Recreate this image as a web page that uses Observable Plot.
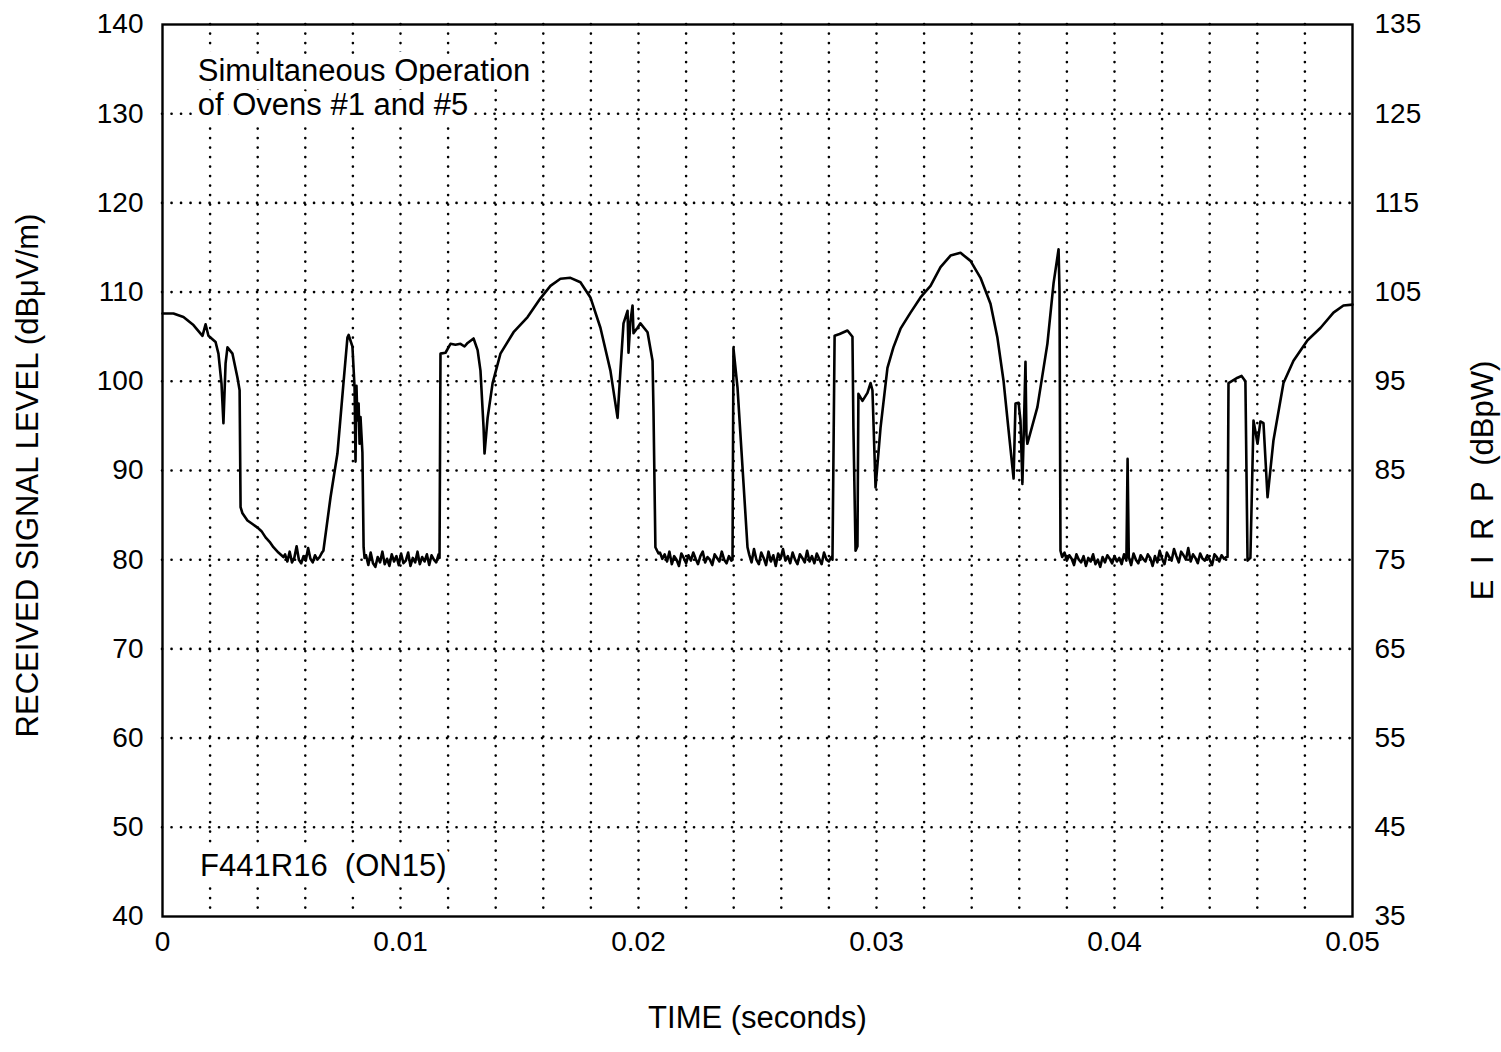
<!DOCTYPE html>
<html>
<head>
<meta charset="utf-8">
<script src="https://cdn.jsdelivr.net/npm/d3@7"></script>
<script src="https://cdn.jsdelivr.net/npm/@observablehq/plot@0.6"></script>
<style>
  html, body { margin: 0; padding: 0; background: #fff; }
  #chart { width: 1501px; height: 1052px; }
</style>
</head>
<body>
<div id="chart"></div>
<script>
// ---- Data (time in milliseconds, level in dBuV/m) ----
const traceMs = [
  0, 0.46, 0.88, 1.30, 1.68, 1.81, 1.93, 2.23, 2.35, 2.48, 2.56, 2.65, 2.73, 2.94, 3.15, 3.24, 3.28, 3.36, 3.57, 3.78, 3.99, 4.16, 4.33, 4.50, 4.66, 4.87, 5.08,
  6.76, 7.06, 7.35, 7.61, 7.77, 7.82, 7.98, 8.07, 8.11, 8.15, 8.19, 8.24, 8.28, 8.32, 8.40, 8.45, 8.49,
  11.64, 11.68, 11.89, 12.10, 12.31, 12.52, 12.69, 12.82, 13.07, 13.24, 13.36, 13.49, 13.53, 13.66, 13.87, 14.20, 14.75, 15.34, 15.88, 16.30, 16.72, 17.14, 17.56, 17.98, 18.40, 18.82, 19.12, 19.24, 19.37, 19.54, 19.58, 19.66, 19.75, 19.79, 19.96, 20.08, 20.38, 20.59, 20.63, 20.71, 20.84,
  23.95, 23.99, 24.16, 24.58,
  28.15, 28.24, 28.45, 28.78, 28.99, 29.03, 29.12, 29.20, 29.24, 29.41, 29.62, 29.75, 29.83, 29.96, 30.17, 30.46, 30.71, 31.01, 31.43, 31.85, 32.27, 32.69, 33.11, 33.53, 33.95, 34.37, 34.79, 35.08, 35.34, 35.55, 35.76, 35.84, 35.97, 36.05, 36.13, 36.18, 36.26, 36.30, 36.34, 36.76, 37.18, 37.44, 37.65, 37.69, 37.73,
  40.55,
  44.75, 44.79, 45.17, 45.34, 45.50, 45.59, 45.71, 45.84, 46.01, 46.13, 46.26, 46.43, 46.68, 47.10, 47.52, 48.11, 48.66, 49.20, 49.62, 50.00
];
const traceLevel = [
  107.6, 107.6, 107.2, 106.3, 105.1, 106.4, 105.1, 104.4, 103.1, 99.7, 95.3, 102.0, 103.8, 103.1, 100.4, 99.0, 85.9, 85.2, 84.4, 84.0, 83.6, 83.2, 82.5, 82.0, 81.4, 80.8, 80.3,
  81.0, 87.0, 91.9, 100.0, 104.9, 105.2, 103.9, 99.3, 91.0, 99.5, 95.6, 97.5, 93.0, 96.0, 92.0, 81.4, 80.2,
  80.2, 103.1, 103.2, 104.2, 104.1, 104.2, 103.9, 104.3, 104.8, 103.5, 101.2, 94.8, 91.9, 95.9, 99.8, 103.1, 105.5, 107.2, 109.3, 110.7, 111.5, 111.6, 111.1, 109.4, 106.0, 101.2, 95.9, 101.2, 106.5, 107.9, 103.2, 106.7, 108.5, 105.4, 106.0, 106.5, 105.5, 102.3, 96.7, 81.4, 80.7,
  80.0, 103.7, 99.3, 81.4,
  80.0, 105.1, 105.3, 105.7, 105.0, 94.8, 81.0, 81.5, 98.6, 97.8, 98.7, 99.8, 99.0, 88.1, 94.8, 101.5, 103.8, 105.9, 107.7, 109.4, 110.7, 112.8, 114.1, 114.4, 113.5, 111.6, 108.7, 104.9, 100.0, 94.5, 89.1, 97.5, 97.6, 95.6, 88.5, 93.5, 102.2, 94.0, 93.0, 97.1, 104.2, 111.0, 114.8, 110.0, 81.0,
  91.3,
  80.3, 99.8, 100.4, 100.6, 100.0, 79.9, 80.2, 95.6, 93.0, 95.5, 95.3, 87.0, 93.4, 99.8, 102.3, 104.6, 106.0, 107.7, 108.5, 108.6
];

// Receiver noise floor stretches (sampled evenly between start and end, ms)
const noiseStartMs = [5.15, 8.55, 20.90, 24.65, 37.80];
const noiseEndMs   = [6.70, 11.60, 23.90, 28.10, 44.70];
const noise1Level = [80.6, 79.8, 80.9, 79.7, 80.2, 81.5, 80.0, 79.6, 80.4, 79.9, 81.3, 80.1, 79.7, 80.5, 80.0, 80.3, 80.8];
const noise2Level = [80.5, 79.4, 80.8, 79.6, 79.2, 80.3, 79.7, 80.9, 79.5, 80.1, 79.3, 80.6, 79.8, 80.4, 79.4, 80.7, 79.6, 79.9, 80.8, 79.3, 80.2, 79.7, 80.9, 79.5, 80.3, 79.8, 80.6, 79.4, 80.5, 80.0, 79.7, 80.6];
const noise3Level = [80.8, 80.1, 80.6, 79.8, 80.9, 79.5, 80.4, 80.0, 79.3, 80.7, 80.2, 79.6, 80.5, 79.9, 80.8, 80.1, 79.5, 80.4, 80.9, 79.7, 80.3, 80.0, 79.4, 80.6, 80.2, 79.8, 80.9, 80.0, 79.6, 80.4, 79.9];
const noise4Level = [80.6, 79.7, 81.2, 80.0, 79.5, 80.8, 80.2, 79.4, 80.9, 79.8, 80.5, 79.3, 80.7, 80.1, 81.2, 79.9, 80.4, 79.6, 80.8, 80.0, 79.5, 80.6, 80.2, 79.7, 81.0, 79.8, 80.4, 79.6, 80.7, 80.1, 79.5, 80.8, 80.0, 79.8, 80.3];
const noise5Level = [80.3, 80.8, 79.9, 80.5, 80.1, 79.4, 80.6, 80.0, 79.7, 80.4, 79.3, 80.2, 79.8, 80.6, 79.5, 80.0, 79.2, 80.3, 79.7, 80.5, 80.1, 79.6, 80.4, 79.8, 80.2, 79.5, 80.6, 79.9, 80.3, 79.4, 80.7, 80.0, 79.6, 80.5, 80.1, 79.8, 80.6, 80.2, 79.3, 80.4, 79.7, 81.0, 80.1, 79.5, 80.8, 80.3, 79.9, 81.2, 80.4, 79.7, 80.9, 80.5, 80.0, 81.3, 79.8, 80.6, 80.2, 79.6, 80.7, 80.1, 79.9, 80.5, 80.0, 79.4, 80.6, 80.3, 79.8, 80.5, 80.1, 80.3];

// Axes / grid
const timeTicks = [0, 0.01, 0.02, 0.03, 0.04, 0.05];
const timeGrid = [0.002, 0.004, 0.006, 0.008, 0.01, 0.012, 0.014, 0.016, 0.018, 0.02, 0.022, 0.024, 0.026, 0.028, 0.03, 0.032, 0.034, 0.036, 0.038, 0.04, 0.042, 0.044, 0.046, 0.048];
const levelTicks = [40, 50, 60, 70, 80, 90, 100, 110, 120, 130, 140];
const levelGrid = [50, 60, 70, 80, 90, 100, 110, 120, 130];
const eirpLabels = ["35", "45", "55", "65", "75", "85", "95", "105", "115", "125", "135"];

const titleLines = ["Simultaneous Operation", "of Ovens #1 and #5"];
const runLabel = "F441R16 \u00A0(ON15)";
const xTitle = "TIME (seconds)";
const yTitle = "RECEIVED SIGNAL LEVEL (dB\u03BCV/m)";
const y2Title = "E\u2002I\u2002R\u2002P\u2002(dBpW)";

// ---- Build table ----
const noiseLevels = [noise1Level, noise2Level, noise3Level, noise4Level, noise5Level];
const points = traceMs.map((t, i) => ({t: t / 1000, v: traceLevel[i]}));
noiseLevels.forEach((arr, k) => {
  const s = noiseStartMs[k], e = noiseEndMs[k], n = arr.length;
  arr.forEach((v, i) => points.push({t: (s + (e - s) * i / (n - 1)) / 1000, v}));
});
points.sort((a, b) => a.t - b.t);

const FONT = "'Liberation Sans', Arial, Helvetica, sans-serif";
const dots = {stroke: "black", strokeWidth: 2.6, strokeDasharray: "0.1,9.4", strokeLinecap: "round"};
const halo = {fill: "black", stroke: "white", strokeWidth: 16, strokeLinejoin: "round", paintOrder: "stroke", textAnchor: "start", fontSize: 31};

const chart = Plot.plot({
  width: 1501,
  height: 1052,
  marginLeft: 162,
  marginRight: 149,
  marginTop: 24,
  marginBottom: 136,
  style: {fontFamily: FONT, background: "white", color: "black"},
  x: {domain: [0, 0.05]},
  y: {domain: [40, 140]},
  marks: [
    Plot.ruleX(timeGrid, dots),
    Plot.ruleY(levelGrid, dots),
    Plot.text([titleLines[0]], {x: 0.00148, y: 134.8, ...halo}),
    Plot.text([titleLines[1]], {x: 0.00148, y: 131.0, ...halo}),
    Plot.text([runLabel], {x: 0.00158, y: 45.6, ...halo}),
    Plot.line(points, {x: "t", y: "v", stroke: "black", strokeWidth: 2.6, strokeLinejoin: "round"}),
    Plot.frame({stroke: "black", strokeWidth: 2.4}),
    Plot.axisX({ticks: timeTicks, tickFormat: d => String(d), tickSize: 0, tickPadding: 15, fontSize: 28, label: null}),
    Plot.axisY({ticks: levelTicks, tickFormat: d => String(d), tickSize: 0, tickPadding: 19, fontSize: 28, label: null}),
    Plot.axisY({anchor: "right", ticks: levelTicks, tickFormat: d => eirpLabels[levelTicks.indexOf(d)], tickSize: 0, tickPadding: 22, fontSize: 28, label: null}),
    Plot.text([yTitle], {frameAnchor: "left", textAnchor: "middle", rotate: -90, dx: -134, dy: 5, fontSize: 31, fill: "black"}),
    Plot.text([y2Title], {frameAnchor: "right", textAnchor: "middle", rotate: -90, dx: 131, dy: 10, fontSize: 31, fill: "black"}),
    Plot.text([xTitle], {frameAnchor: "bottom", textAnchor: "middle", dy: 111, fontSize: 31, fill: "black"})
  ]
});
document.getElementById("chart").appendChild(chart);
</script>
</body>
</html>
